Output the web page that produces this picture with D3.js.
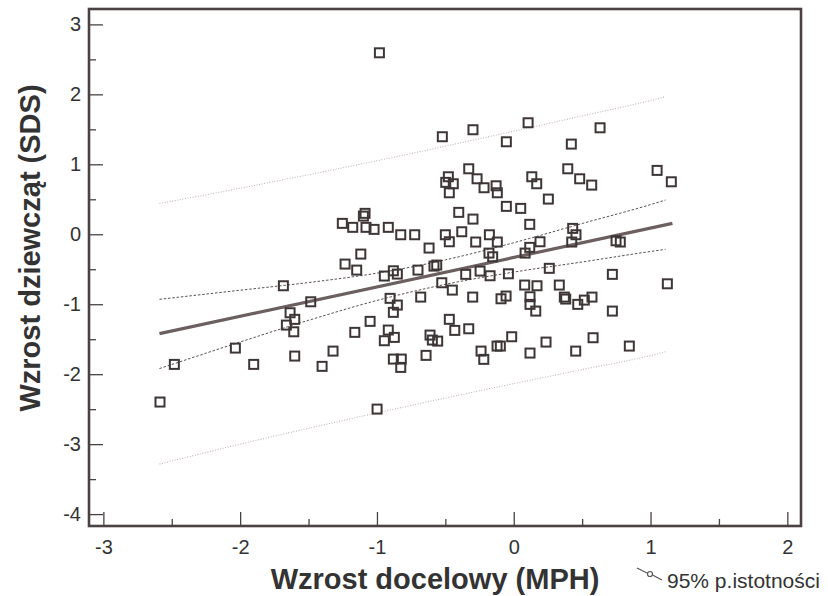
<!DOCTYPE html>
<html>
<head>
<meta charset="utf-8">
<script src="https://cdn.jsdelivr.net/npm/d3@7"></script>
<style>
  body { margin: 0; background: #fff; }
  text { font-family: "Liberation Sans", Arial, sans-serif; }
</style>
</head>
<body>
<svg id="chart" width="828" height="596"></svg>
<script>
// scatter: target height (MPH) vs girls' height SDS
const pointsX = [
  -1.087, -1.099, -1.253, -1.177, -1.080, -1.021, -0.917, -0.826, -1.118, -1.233,
  -1.148, -0.880, -0.946, -0.851, -1.684, -1.484, -0.904, -0.851, -0.880, -1.635,
  -1.601, -1.662, -1.608, -1.050, -1.162, -0.917, -0.946, -0.873, -2.035, -2.481,
  -1.901, -1.601, -1.321, -1.401, -0.880, -0.822, -0.826, -2.586, -0.999, -0.982,
  -0.522, -0.298, 0.105, -0.054, 0.421, 0.631, -0.329, -0.478, -0.497, -0.442,
  -0.471, -0.268, -0.217, -0.129, -0.120, 0.132, 0.168, 0.395, 0.482, 0.570,
  1.048, 1.152, 0.253, -0.054, 0.051, -0.402, -0.298, 0.117, -0.724, -0.500,
  -0.471, -0.380, -0.619, -0.278, -0.178, -0.120, 0.431, 0.455, 0.424, 0.192,
  0.117, 0.083, -0.181, -0.154, 0.748, 0.779, -0.700, -0.583, -0.563, -0.351,
  -0.246, -0.173, -0.039, 0.260, 0.721, 1.123, -0.526, -0.449, 0.080, 0.170,
  0.333, -0.680, -0.300, -0.093, -0.056, 0.119, 0.119, 0.161, 0.370, 0.380,
  0.468, 0.516, 0.572, 0.721, -0.471, -0.431, -0.329, -0.612, -0.595, -0.556,
  -0.641, -0.239, -0.219, -0.122, -0.098, -0.015, 0.119, 0.236, 0.453, 0.580,
  0.845
];
const pointsY = [
  0.299, 0.260, 0.156, 0.099, 0.099, 0.070, 0.099, -0.007, -0.283, -0.426,
  -0.512, -0.522, -0.597, -0.569, -0.736, -0.965, -0.916, -1.012, -1.116, -1.122,
  -1.216, -1.298, -1.394, -1.245, -1.402, -1.369, -1.522, -1.474, -1.627, -1.860,
  -1.860, -1.741, -1.670, -1.888, -1.784, -1.784, -1.903, -2.398, -2.499, 2.594,
  1.394, 1.494, 1.594, 1.322, 1.289, 1.522, 0.936, 0.822, 0.742, 0.722,
  0.593, 0.793, 0.665, 0.693, 0.593, 0.822, 0.722, 0.936, 0.793, 0.703,
  0.913, 0.750, 0.503, 0.399, 0.370, 0.313, 0.217, 0.142, -0.007, -0.007,
  -0.107, 0.036, -0.197, -0.111, -0.007, -0.111, 0.084, -0.007, -0.111, -0.107,
  -0.187, -0.269, -0.269, -0.322, -0.093, -0.111, -0.512, -0.455, -0.440, -0.573,
  -0.526, -0.593, -0.565, -0.487, -0.573, -0.708, -0.693, -0.798, -0.726, -0.736,
  -0.726, -0.898, -0.898, -0.922, -0.883, -0.893, -1.002, -1.098, -0.898, -0.926,
  -1.002, -0.941, -0.898, -1.098, -1.216, -1.374, -1.351, -1.441, -1.512, -1.527,
  -1.731, -1.670, -1.788, -1.598, -1.598, -1.465, -1.698, -1.541, -1.670, -1.479,
  -1.598
];

// regression line ends
const fitX = [-2.59, 1.16];
const fitY = [-1.42, 0.156];

// bands
const bandX   = [-2.59, -2.0, -1.5, -1.0, -0.5, 0.0, 0.5, 1.0, 1.11];
const ciUpper = [-0.93, -0.80, -0.69, -0.556, -0.366, -0.121, 0.154, 0.424, 0.49];
const ciLower = [-1.92, -1.54, -1.23, -0.946, -0.716, -0.541, -0.396, -0.246, -0.215];
const piUpper = [0.44, 0.658, 0.851, 1.051, 1.259, 1.473, 1.692, 1.912, 1.966];
const piLower = [-3.285, -3.0, -2.773, -2.553, -2.341, -2.135, -1.934, -1.734, -1.68];

const xMajor = [-3, -2, -1, 0, 1, 2];
const xMinor = [-2.5, -1.5, -0.5, 0.5, 1.5];
const yMajor = [-4, -3, -2, -1, 0, 1, 2, 3];
const yMinor = [-3.5, -2.5, -1.5, -0.5, 0.5, 1.5, 2.5];

const xTitle = "Wzrost docelowy (MPH)";
const yTitle = "Wzrost dziewcząt (SDS)";
const legendText = "95% p.istotności";

const ink = "#4a4242";
const fmt = d => (d < 0 ? "-" + Math.abs(d) : String(d));
const svg = d3.select("#chart");
const x = d3.scaleLinear().domain([-3.105, 2.10]).range([89, 801]);
const y = d3.scaleLinear().domain([-4.17, 3.22]).range([526, 9]);

// --- axes (ticks point inward) ---
svg.append("g").attr("transform", `translate(0,${y.range()[0]})`)
  .call(d3.axisBottom(x).tickValues(xMajor).tickSize(-14).tickPadding(14).tickFormat(fmt));
svg.append("g").attr("class", "minor").attr("transform", `translate(0,${y.range()[0]})`)
  .call(d3.axisBottom(x).tickValues(xMinor).tickSize(-7));
svg.append("g").attr("transform", `translate(${x.range()[0]},0)`)
  .call(d3.axisLeft(y).tickValues(yMajor).tickSize(-14).tickPadding(8).tickFormat(fmt));
svg.append("g").attr("class", "minor").attr("transform", `translate(${x.range()[0]},0)`)
  .call(d3.axisLeft(y).tickValues(yMinor).tickSize(-7));

svg.selectAll(".minor text").remove();
svg.selectAll(".domain").remove();
svg.selectAll(".tick line").attr("stroke", ink).attr("stroke-width", 1.3);
svg.selectAll(".tick text").attr("fill", "#333").style("font-size", "20px");

// frame
svg.append("rect")
  .attr("x", x.range()[0]).attr("y", y.range()[1])
  .attr("width", x.range()[1] - x.range()[0])
  .attr("height", y.range()[0] - y.range()[1])
  .attr("fill", "none").attr("stroke", ink).attr("stroke-width", 2.6);

// --- bands and fit ---
function band(values) {
  return d3.line().x((d, i) => x(bandX[i])).y(d => y(d)).curve(d3.curveMonotoneX)(values);
}
[piUpper, piLower].forEach(v => svg.append("path").attr("d", band(v))
  .attr("fill", "none").attr("stroke", "#c4b4b4").attr("stroke-width", 1.1)
  .attr("stroke-dasharray", "1,1.6"));
[ciUpper, ciLower].forEach(v => svg.append("path").attr("d", band(v))
  .attr("fill", "none").attr("stroke", "#5a5050").attr("stroke-width", 1)
  .attr("stroke-dasharray", "2.5,1.8"));

svg.append("path")
  .attr("d", d3.line().x((d, i) => x(fitX[i])).y(d => y(d))(fitY))
  .attr("fill", "none").attr("stroke", "#6b5f5f").attr("stroke-width", 3.2);

// --- points ---
const s = 9;
svg.append("g").selectAll("rect").data(pointsX).enter().append("rect")
  .attr("x", (d) => x(d) - s / 2)
  .attr("y", (d, i) => y(pointsY[i]) - s / 2)
  .attr("width", s).attr("height", s)
  .attr("fill", "none").attr("stroke", "#3e3636").attr("stroke-width", 2);

// --- titles ---
svg.append("text").attr("x", 435).attr("y", 589).attr("text-anchor", "middle")
  .attr("fill", "#333").style("font-size", "29px").style("font-weight", "bold").text(xTitle);
svg.append("text").attr("transform", "translate(40,248) rotate(-90)").attr("text-anchor", "middle")
  .attr("fill", "#333").style("font-size", "29px").style("font-weight", "bold").text(yTitle);

// legend for the dotted band
const lg = svg.append("g").attr("stroke", "#555").attr("fill", "none").attr("stroke-width", 1.2);
lg.append("path").attr("d", "M637,568 L647,573");
lg.append("circle").attr("cx", 650).attr("cy", 574).attr("r", 2.5);
lg.append("path").attr("d", "M652.5,575 L662,580");
svg.append("text").attr("x", 667).attr("y", 588).attr("fill", "#333")
  .style("font-size", "21px").text(legendText);
</script>
</body>
</html>
